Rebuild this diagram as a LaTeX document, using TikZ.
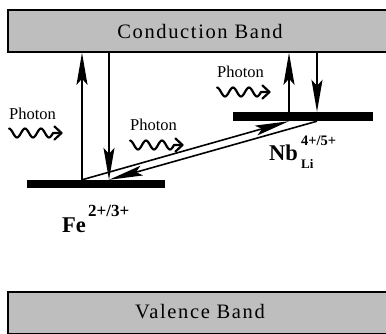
\documentclass[tikz,border=0pt]{standalone}
\usepackage{fontspec}
\setmainfont{Liberation Serif}
\usetikzlibrary{arrows.meta}
\definecolor{bandgray}{HTML}{BEBEBE}
\tikzset{
  band/.style={draw=black, line width=1.6pt, fill=bandgray, inner sep=0pt,
    minimum width=384pt, minimum height=42pt},
  bandlabel/.style={font=\fontsize{20.5}{24}\selectfont\addfontfeatures{LetterSpace=8}},
  level/.style={fill=black, draw=none, inner sep=0pt},
  trans/.style={line width=1.8pt, -{Stealth[length=32pt,width=11pt,inset=6pt]}},
  diag/.style={line width=1.6pt, -{Stealth[length=34pt,width=10pt,inset=6pt]}},
  wave/.style={line width=2.2pt, line join=round, line cap=round},
  photonlabel/.style={font=\fontsize{16.5}{20}\selectfont, anchor=base west, inner sep=0pt},
  ion/.style={font=\fontsize{22.5}{26}\selectfont\bfseries, anchor=base west, inner sep=0pt},
  charge/.style={font=\fontsize{#1}{#1}\selectfont\bfseries, anchor=base west, inner sep=0pt},
  photon/.pic={
    \draw[wave] plot[domain=0:44,samples=45,smooth] (\x,{-4.5*cos(360*\x/16)}) -- (52,0);
    \draw[wave] (45.5,-6.5) -- (52.5,0) -- (45.5,6.5);
  }
}
\begin{document}
\begin{tikzpicture}[x=1pt,y=-1pt]
  \useasboundingbox (0,0) rectangle (386,333);
  \fill[white] (0,0) rectangle (386,333);
  \clip (0,0) rectangle (386,333);

  % bands
  \node[band] (cb) at (200,31) {};
  \node[bandlabel] (cbtext) at (200,31) {Conduction Band};
  \node[band] (vb) at (200,313) {};
  \node[bandlabel] (vbtext) at (200,312) {Valence Band};

  % levels
  \node[level, minimum width=138pt, minimum height=8pt] (fe) at (96,184) {};
  \node[level, minimum width=140pt, minimum height=9pt] (nb) at (303,116.5) {};

  % x positions of transitions
  \coordinate (feup) at (82,0);
  \coordinate (fedn) at (109,0);
  \coordinate (nbup) at (289,0);
  \coordinate (nbdn) at (317,0);

  % vertical transitions
  \draw[trans] (fe.north -| feup) -- (cb.south -| feup);
  \draw[trans] (cb.south -| fedn) -- (fe.north -| fedn);
  \draw[trans] (nb.north -| nbup) -- (cb.south -| nbup);
  \draw[trans] (cb.south -| nbdn) -- (nb.north -| nbdn);

  % diagonal transfers
  \draw[diag] (fe.north -| feup) -- (nb.south -| nbup);
  \draw[diag] (nb.south -| nbdn) -- (fe.north -| fedn);

  % photons
  \node[photonlabel] (ph1) at (9,119) {Photon};
  \pic (w1) at (9,133) {photon};
  \node[photonlabel] (ph2) at (130,130) {Photon};
  \pic (w2) at (130,145) {photon};
  \node[photonlabel] (ph3) at (217,77) {Photon};
  \pic (w3) at (217,92) {photon};

  % ion labels
  \node[ion] (fetext) at (62,232) {Fe};
  \node[charge=17] (fecharge) at (88,216) {2+/3+};
  \node[ion] (nbtext) at (269,160) {Nb};
  \node[charge=14.5] (nbcharge) at (301,145) {4+/5+};
  \node[charge=13] (nbsite) at (301,168) {Li};
\end{tikzpicture}
\end{document}
